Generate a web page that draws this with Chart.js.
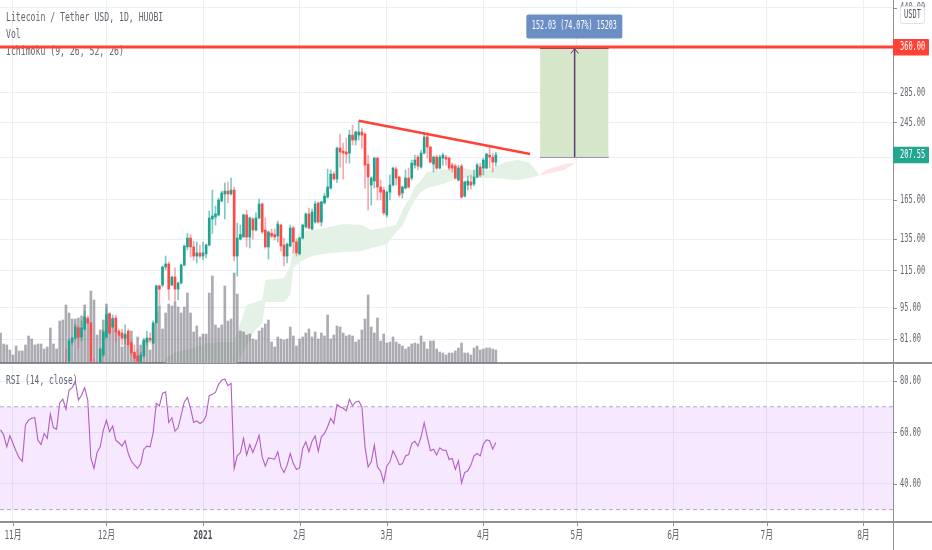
<!DOCTYPE html>
<html>
<head>
<meta charset="utf-8">
<title>LTC/USDT</title>
<script src="https://cdn.jsdelivr.net/npm/chart.js@4/dist/chart.umd.min.js"></script>
<style>
  html, body { margin: 0; padding: 0; background: #fff; overflow: hidden; }
  canvas { position: absolute; left: 0; }
  #priceChart { top: 0; }
  #rsiChart { top: 364px; }
</style>
</head>
<body>
<canvas id="priceChart" width="932" height="364"></canvas>
<canvas id="rsiChart" width="932" height="186"></canvas>
<script>
// days counted from 1 Nov 2020
const monthDays = [0, 30, 61, 92, 120, 151, 181, 212, 242, 273];
const monthLabels = ["11月", "12月", "2021", "2月", "3月", "4月", "5月", "6月", "7月", "8月"];
const priceTicks = [440, 360, 285, 245, 205, 165, 135, 115, 95, 81];
const rsiTicks = [80, 60, 40];

const volumeFirstDay = -4;
const volumes = [30,19,18,13,8,17,12,12,18,27,24,18,19,19,14,16,35,19,14,42,43,58,50,44,44,45,47,58,44,72,63,28,33,43,59,50,45,33,28,16,28,17,32,9,26,18,22,25,13,39,51,57,34,50,59,57,61,56,50,56,70,50,31,37,26,29,29,70,87,38,35,38,77,42,44,90,69,32,31,28,29,
  24,23,32,35,39,43,21,16,26,24,23,24,36,27,17,24,26,30,34,26,31,24,30,27,48,24,28,37,36,30,27,28,27,21,23,33,44,68,36,30,45,22,29,20,21,26,21,19,17,14,16,19,20,19,27,21,14,22,22,14,11,10,8,10,10,12,15,20,10,10,8,15,17,13,14,15,15,14,13];

// candles before this day are under the bottom of the pane
const candleFirstDay = 17;
const opens = [71,72.4,79.8,81.4,85.8,81.8,85.3,90.2,88,71,69,72,74.7,81.8,92,86.2,90.2,84.4,83.6,81.4,84.4,79.4,75.8,74.3,72,74.3,79.8,81.4,79.4,88,106.3,106.8,117.1,118.9,106.8,111.2,104.6,107.9,118.3,129.7,135.7,129.7,123.8,125.8,123.8,125.2,131,149.6,151.1,152.7,164,170,172.5,170,173.4,123.8,135,136.4,152.7,136.4,149.6,141.4,150.4,161.5,141.4,129.7,139,138.2,137.1,145,131,123.8,130.3,142.9,133,125.2,135.7,143.6,153.5,142.1,147.3,162.4,147.3,162.4,167.3,175.2,188.2,183.5,214.9,211.6,210.6,209.5,229.6,223.9,229.6,233.2,230.9,198,177.9,181.6,204.1,176.1,173.4,152.7,171.6,177.9,193,185.4,170.8,175.2,184.4,184.4,197,205.2,195,209.5,227.4,216,198,205.2,194,204.1,205.2,204.1,197,196,182.5,196,168.1,177.9,180.7,178.8,185.4,195,194,194,207.3,205.2,200];
const closes = [70,80.2,81.4,86.2,81.8,85.8,90.7,88,72.4,69,70,77,84,92,83.6,89.7,84,82.7,81.4,83.1,78.6,75.5,73.5,72.4,74.7,80.6,81.4,80.6,88,106.3,104.6,117.1,118.9,104.6,111.2,104.6,107.9,118.3,130.3,135.7,129.7,123.8,125.8,123.8,125.8,131,150.4,151.9,153.5,164.8,170.8,172.5,170,173.4,123.8,135.7,138.2,152.7,136.4,150.4,141.4,150.4,161.5,140,129.7,140,137.1,136.4,145.8,130.3,123.8,131.6,142.9,133,125.8,135.7,145,153.5,142.9,155,161.5,147.3,163.2,168.1,176.1,188.2,183.5,214.9,210.6,209.4,208.4,229.6,223.9,233.2,233.2,229.6,197,185.4,184.4,204.1,176.1,171.6,154.3,171.6,177.9,194,184.4,169.1,176.1,184.4,176.1,199,202.1,196,209.5,227.4,216,200,205.2,194,205.2,207.3,203.1,194,194,184.4,194,167.3,180.7,181.6,177.9,185.4,197,187.2,202.1,208.4,205.2,200,207.55];
const highs = [77,81,81.8,87.5,86.5,88.9,93.5,91.2,88.4,73.2,71,77.4,84.9,95,92.6,91.6,91.6,85.3,85.3,87.1,85.3,80.2,78.6,76.6,75.8,81.4,84.4,83.6,88.9,106.8,106.8,117.7,123.8,120.1,111.8,116.5,108.4,118.9,131,139,138.2,133.6,133,131,133,131.6,155.8,173.4,159.8,166.4,172.5,179.8,180.7,184.4,176.1,146.5,145,153.5,156.6,151.1,150.4,154.3,165.6,162.4,150.4,140.7,142.1,142.1,148,145.8,135.7,132.3,145,144.3,135,136.4,145.8,154.3,158.2,157.4,164,163.2,164,170.8,193,192.1,190.1,216,230.8,220.5,226.2,235.6,241.6,234.4,246.6,238,232,207.3,185.4,205.2,205.2,182.5,176.1,172.5,187.2,195,195,186.3,177,192.1,194,202.1,207.3,207.3,212.7,232,232,217,206.3,207.3,207.3,209.4,207.3,205.2,199,198,197,198,181.6,186.3,187.2,192.1,199,199,204.1,209.4,216,209.4,210.5];
const lows = [68,71,78.6,81,77.4,80.2,84.9,87.5,71,67,67,71.5,74,81.4,83,85.8,79.8,82.2,78.6,79,78.2,74.3,71.7,71,71.5,73.9,78.6,79.4,79,88,96.4,105.7,115.3,98.9,106.3,97.9,98.9,107.3,117.7,127.7,123.2,121.3,119.5,122.6,121.3,122.6,130.3,139,145,151.9,163.2,149.6,162.4,169.1,120.7,111.8,134.3,136.4,129.7,129,135,140.7,149.6,139,129,121.9,135.7,134.3,133,127,117.7,119.5,129.7,125.8,123.8,124.5,135,142.9,142.1,141.4,146.5,146.5,144.3,161.5,166.4,174.3,182.5,180,195,183.5,199,199,218.2,218.2,223.9,214.9,175.2,156.6,160.6,175.2,164.8,164.8,152.7,151.1,164.8,177,177.9,167.3,166.4,174.3,175.2,182.5,194,192.1,194,208.4,204.1,199,190.1,192.1,193,197,197,192.1,190.1,183.5,181.6,166.4,167.3,173.4,174.3,177,184.4,185.4,187.2,193,194,190.1,196];

// ichimoku cloud edges
const cloudDays = [49,52,57,62,68,71,72,75,78,80,81,87,89,90,92,96,100,106,112,115,120,123,125,127,129,131,133,138,143,148,153,158,162,166,169];
const cloudUpper = [73.5,75.8,77,79.4,79.8,79.8,84,96.4,97.9,98.9,109.5,110.7,117.7,131,140,141.4,142.9,145.8,145,141.4,143.6,145,156.6,164.8,176.1,182.5,190.1,192.1,195,192.1,192.1,200,202.1,199,187];
const cloudLower = [70.6,70.6,70.6,70.6,70.6,71,72,78.6,84.9,88,97.9,97.9,101.5,116.5,120.1,123.8,125.2,126.4,127,129,131.6,140,144.3,155,164.8,171.6,175.2,178.8,184.4,184.4,184.4,183.5,182.5,184.4,187];
const redCloudDays = [169,171,174,177,180];
const redCloudUpper = [187,192.1,195,198,199];
const redCloudLower = [187,187.9,190.1,192.1,198];

// drawings
const targetPrice = 360;
const lastPrice = 207.55;
const trendDays = [111, 166];
const trendPrices = [247, 208.5];
const boxDays = [169.2, 191.2];
const boxTop = 357.28;
const boxBottom = 205.25;
const arrowDay = 180.3;
const arrowHeadDays = [179.1, 180.3, 181.5];
const arrowHeadPrices = [348.3, 357.28, 348.3];

const rsiFirstDay = -4;
const rsiValues = [61,59,54.4,58.7,55.7,52.7,50.1,48.8,62.9,64.8,65.5,65.8,57,55.3,59.6,57.7,67.1,61.8,61.3,71.6,73,69,76.5,77.4,80.1,72.6,74.5,77.4,72.6,50.1,46,52.2,54.4,60.9,64.8,60.3,62.5,57,56,54.7,56.8,51.8,48.8,47.3,46,47.9,53.5,54.7,54.4,59.9,71.3,70.3,75.2,75.8,63.9,65.7,60.5,61.8,66.8,71.9,73.6,69.4,63.9,64.5,63.5,64.2,66.5,74.3,74.9,75.6,78.7,80.3,80.8,78.2,79.1,46,50.9,52.2,57.7,51.2,55.3,52.2,55.3,59,50.5,46.9,50.1,
  49.9,49.6,52.5,46.6,44.4,47.3,51.8,47.9,45.6,46.2,53.8,56.4,52.5,56.6,58.6,52.7,58.3,59.6,62.2,65.5,63.5,70.9,70,69.4,68.4,72.9,70.4,71.9,72.2,70,54.4,46.6,48.6,55.1,46.6,44.9,40.8,47,48.6,52.9,50.5,47.5,47.8,50.9,51.4,55.7,56.6,54.7,58.3,63.8,58.3,52.9,53.5,51.2,54,53.1,53.1,49.5,49.9,45.6,49,40.4,44.4,45.1,47.3,50.9,51.8,50.9,55.5,57.1,56.8,53.5,56.1];
const rsiBandTop = 70;
const rsiBandBottom = 30;

const xMin = -4.173, xMax = 282.5;
const priceMin = 71.7, priceMax = 457.7;
const rsiMin = 25.18, rsiMax = 86.63;
const axisWidth = 39;

const gridColor = "#e9f0f5";
const axisColor = "#8f9096";
const textColor = "#62656f";
const monoFont = '"DejaVu Sans Mono","Noto Sans CJK SC",monospace';
const upColor = "#1fa38f", downColor = "#ff4a4a";
const upWick = "rgba(38,166,154,.6)", downWick = "rgba(239,83,100,.5)";
const redLine = "#ff4136", purple = "#5e3a72";

Chart.defaults.animation = false;
Chart.defaults.devicePixelRatio = 1;
Chart.defaults.responsive = false;

// the reference type is squeezed sideways, so text goes through a scaled context
function squeezed(ctx, text, x, y, sx, opts) {
  opts = opts || {};
  ctx.save();
  ctx.translate(x, y);
  ctx.scale(sx, 1);
  ctx.font = (opts.weight || "normal") + " " + (opts.size || 12) + "px " + monoFont;
  ctx.fillStyle = opts.color || textColor;
  ctx.textAlign = opts.align || "left";
  ctx.textBaseline = "middle";
  ctx.fillText(text, 0, 0);
  ctx.restore();
}

function roundBox(ctx, x, y, w, h, r, fill, stroke) {
  ctx.beginPath();
  ctx.roundRect(x, y, w, h, r);
  ctx.fillStyle = fill;
  ctx.fill();
  if (stroke) { ctx.strokeStyle = stroke; ctx.stroke(); }
}

function tickLabels(chart, scaleId, fmt) {
  const ctx = chart.ctx, s = chart.scales[scaleId];
  s.ticks.forEach((t) => {
    const y = s.getPixelForValue(t.value);
    ctx.fillStyle = axisColor;
    ctx.fillRect(s.left, Math.round(y), 4, 1);
    squeezed(ctx, fmt(t.value), s.left + 7, y, 0.58);
  });
}

const priceOverlay = {
  id: "priceOverlay",
  beforeDatasetsDraw(chart) {
    const ctx = chart.ctx;
    squeezed(ctx, "Litecoin / Tether USD, 1D, HUOBI", 6, 18, 0.68);
    squeezed(ctx, "Vol", 6, 35, 0.68);
    squeezed(ctx, "Ichimoku (9, 26, 52, 26)", 6, 52, 0.68);
  },
  afterDraw(chart) {
    const ctx = chart.ctx, y = chart.scales.price, x = chart.scales.x;
    tickLabels(chart, "price", (v) => v.toFixed(2));
    ctx.fillStyle = axisColor;
    ctx.fillRect(x.right, 362, 932 - x.right, 2);

    const targetY = y.getPixelForValue(targetPrice);
    roundBox(ctx, x.right, targetY - 8, 36, 16.5, 1, redLine);
    squeezed(ctx, targetPrice.toFixed(2), x.right + 7, targetY, 0.58, { color: "#fff" });
    const lastY = y.getPixelForValue(lastPrice);
    roundBox(ctx, x.right, lastY - 8, 36, 16.5, 1, "#22a68f");
    squeezed(ctx, lastPrice.toFixed(2), x.right + 7, lastY, 0.58, { color: "#fff" });

    roundBox(ctx, 900.5, 6.5, 24, 17, 2, "#fff", "#dfe2e8");
    squeezed(ctx, "USDT", 912.5, 15, 0.58, { align: "center", color: "#50535e" });

    const cx = x.getPixelForValue((boxDays[0] + boxDays[1]) / 2);
    const top = y.getPixelForValue(boxTop);
    roundBox(ctx, cx - 48, top - 34, 96, 24, 2, "#6b8fc4");
    squeezed(ctx, "152.03 (74.07%) 15203", cx, top - 23, 0.56, { align: "center", color: "#fff" });
  }
};

const rsiOverlay = {
  id: "rsiOverlay",
  beforeDatasetsDraw(chart) {
    squeezed(chart.ctx, "RSI (14, close)", 6, 17, 0.66);
  },
  afterDraw(chart) {
    const ctx = chart.ctx, x = chart.scales.x;
    tickLabels(chart, "rsi", (v) => v.toFixed(2));
    ctx.fillStyle = axisColor;
    ctx.fillRect(x.right, x.top - 1, 932 - x.right, 2);
    ctx.fillRect(x.right, x.top, 1, chart.height - x.top);
    x.ticks.forEach((t) => {
      const px = x.getPixelForValue(t.value);
      ctx.fillRect(Math.round(px), x.top, 1, 4);
      squeezed(ctx, t.label, px, 172, 0.65, {
        align: "center",
        weight: t.label === "2021" ? "bold" : "normal",
        color: t.label === "2021" ? "#4a4d58" : textColor
      });
    });
  }
};

function xAxis(height) {
  return {
    type: "linear", min: xMin, max: xMax, offset: false,
    afterBuildTicks: (s) => { s.ticks = monthDays.map((v) => ({ value: v })); },
    afterFit: (s) => { s.height = height; },
    ticks: { display: false, callback: (v) => monthLabels[monthDays.indexOf(v)] },
    grid: { color: gridColor, drawTicks: false, offset: false },
    border: { color: axisColor, width: 2 }
  };
}

function line(days, values, color, width, extra) {
  return Object.assign({
    type: "line",
    data: days.map((d, i) => ({ x: d, y: values[i] })),
    borderColor: color, borderWidth: width,
    pointRadius: 0, tension: 0, fill: false, yAxisID: "price"
  }, extra || {});
}

const candleBodies = opens.map((o, i) => ({ x: candleFirstDay + i, y: [o, closes[i]] }));
const candleWicks = lows.map((l, i) => ({ x: candleFirstDay + i, y: [l, highs[i]] }));
const isUp = opens.map((o, i) => closes[i] >= o);

new Chart(document.getElementById("priceChart"), {
  type: "bar",
  plugins: [priceOverlay],
  data: {
    datasets: [
      line(cloudDays, cloudUpper, "transparent", 0, { fill: "+1", backgroundColor: "#e4f1e5", order: 9 }),
      line(cloudDays, cloudLower, "transparent", 0, { order: 9 }),
      line(redCloudDays, redCloudUpper, "transparent", 0, { fill: "+1", backgroundColor: "#fde4e7", order: 9 }),
      line(redCloudDays, redCloudLower, "transparent", 0, { order: 9 }),
      {
        data: volumes.map((v, i) => ({ x: volumeFirstDay + i, y: v })),
        yAxisID: "vol", backgroundColor: "rgba(112,110,122,.58)",
        barThickness: 2, grouped: false, order: 8
      },
      {
        data: candleWicks, yAxisID: "price",
        backgroundColor: isUp.map((u) => (u ? upWick : downWick)),
        barThickness: 1, grouped: false, order: 7
      },
      {
        data: candleBodies, yAxisID: "price",
        backgroundColor: isUp.map((u) => (u ? upColor : downColor)),
        barThickness: 2, minBarLength: 1, grouped: false, order: 6
      },
      line(boxDays, [boxTop, boxTop], purple, 1, { fill: "+1", backgroundColor: "#d5e6c9", order: 5 }),
      line(boxDays, [boxBottom, boxBottom], purple, 1, { order: 5 }),
      line([arrowDay, arrowDay], [boxBottom, boxTop], purple, 1.5, { order: 4 }),
      line(arrowHeadDays, arrowHeadPrices, purple, 1, { order: 4 }),
      line(trendDays, trendPrices, redLine, 2.5, { order: 3 }),
      line([xMin, xMax], [targetPrice, targetPrice], redLine, 3, { order: 2 })
    ]
  },
  options: {
    layout: { padding: 0 },
    plugins: { legend: { display: false }, tooltip: { enabled: false } },
    scales: {
      x: xAxis(1),
      price: {
        type: "logarithmic", position: "right", min: priceMin, max: priceMax,
        afterBuildTicks: (s) => { s.ticks = priceTicks.map((v) => ({ value: v })); },
        afterFit: (s) => { s.width = axisWidth; },
        ticks: { display: false },
        grid: { color: gridColor, drawTicks: false },
        border: { color: axisColor, width: 1 }
      },
      vol: { type: "linear", display: false, min: 0, max: 363 }
    }
  }
});

new Chart(document.getElementById("rsiChart"), {
  type: "line",
  plugins: [rsiOverlay],
  data: {
    datasets: [
      {
        data: [{ x: xMin, y: rsiBandTop }, { x: xMax, y: rsiBandTop }], yAxisID: "rsi",
        borderColor: "#b9a9c0", borderWidth: 1, borderDash: [4, 3],
        pointRadius: 0, fill: "+1", backgroundColor: "rgba(176,80,255,.13)", order: 3
      },
      {
        data: [{ x: xMin, y: rsiBandBottom }, { x: xMax, y: rsiBandBottom }], yAxisID: "rsi",
        borderColor: "#b9a9c0", borderWidth: 1, borderDash: [4, 3],
        pointRadius: 0, order: 3
      },
      {
        data: rsiValues.map((v, i) => ({ x: rsiFirstDay + i, y: v })), yAxisID: "rsi",
        borderColor: "#b45ec4", borderWidth: 1.1, pointRadius: 0, tension: 0, order: 1
      }
    ]
  },
  options: {
    layout: { padding: 0 },
    plugins: { legend: { display: false }, tooltip: { enabled: false } },
    scales: {
      x: xAxis(28),
      rsi: {
        type: "linear", position: "right", min: rsiMin, max: rsiMax,
        afterBuildTicks: (s) => { s.ticks = rsiTicks.map((v) => ({ value: v })); },
        afterFit: (s) => { s.width = axisWidth; },
        ticks: { display: false },
        grid: { color: gridColor, drawTicks: false },
        border: { color: axisColor, width: 1 }
      }
    }
  }
});
</script>
</body>
</html>
